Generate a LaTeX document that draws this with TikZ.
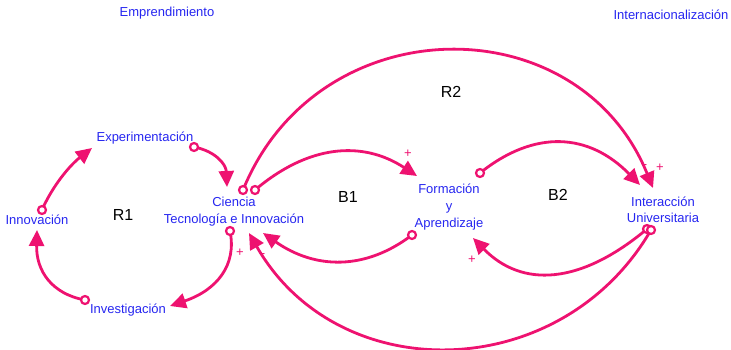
\documentclass[tikz,border=0pt]{standalone}
\usepackage{fontspec}
\setmainfont{Liberation Sans}
\usetikzlibrary{arrows.meta}
\definecolor{varblue}{RGB}{38,38,240}
\definecolor{linkmag}{RGB}{238,18,112}
\tikzset{
  lbl/.style={text=varblue, font=\fontsize{13}{17}\selectfont, align=center, inner sep=0pt},
  looplbl/.style={text=black, font=\fontsize{16}{18}\selectfont, inner sep=0pt},
  sign/.style={text=linkmag, font=\fontsize{13}{14}\selectfont, inner sep=0pt},
  link/.style={draw=linkmag, line width=2.8pt, -{Triangle[length=16pt,width=15pt]}},
  tail/.style={draw=linkmag, line width=2.2pt, fill=white},
}
\begin{document}
\begin{tikzpicture}[x=1pt,y=-1pt]
\useasboundingbox (0,0) rectangle (731,350);

% variables
\node[lbl] (emp)    at (167,13)  {Emprendimiento};
\node[lbl] (intl)   at (671,15)  {Internacionalización};
\node[lbl] (exper)  at (145,138) {Experimentación};
\node[lbl] (innov)  at (37,220)  {Innovación};
\node[lbl] (invest) at (128,310) {Investigación};
\node[lbl] (cti)    at (234,212) {Ciencia\\Tecnología e Innovación};
\node[lbl] (fya)    at (449,207) {Formación\\y\\Aprendizaje};
\node[lbl,font=\fontsize{13}{16}\selectfont] (iu) at (663,210) {Interacción\\Universitaria};

% loop labels
\node[looplbl] (r1) at (123,215) {R1};
\node[looplbl] (b1) at (348,197) {B1};
\node[looplbl] (b2) at (558,195) {B2};
\node[looplbl] (r2) at (451,92)  {R2};

% link ends
\coordinate (innov-tail)  at (42,210);
\coordinate (exper-head)  at (92,148);
\coordinate (exper-tail)  at (194,147);
\coordinate (cti-head1)   at (227,187);
\coordinate (cti-tail1)   at (230,231);
\coordinate (invest-head) at (170,306);
\coordinate (invest-tail) at (85,300);
\coordinate (innov-head)  at (37,230);
\coordinate (cti-tail2)   at (255,190);
\coordinate (fya-head1)   at (417,176);
\coordinate (fya-tail1)   at (412,235);
\coordinate (cti-head2)   at (263,233);
\coordinate (fya-tail2)   at (480,173);
\coordinate (iu-head1)    at (640,185);
\coordinate (iu-tail1)    at (647,229);
\coordinate (fya-head2)   at (473,238);
\coordinate (cti-tail3)   at (243,190);
\coordinate (iu-head2)    at (653,188);
\coordinate (iu-tail2)    at (651,230);
\coordinate (cti-head3)   at (249,233);

% loop R1
\draw[link] (innov-tail) .. controls (52,187) and (69,166) .. (exper-head);
\draw[link] (exper-tail) .. controls (215,151) and (226,164) .. (cti-head1);
\draw[link] (cti-tail1) .. controls (237,265) and (217,290) .. (invest-head);
\draw[link] (invest-tail) .. controls (52,294) and (36,271) .. (innov-head);

% loop B1
\draw[link] (cti-tail2) .. controls (308,145) and (362,140) .. (fya-head1);
\draw[link] (fya-tail1) .. controls (366,270) and (316,270) .. (cti-head2);

% loop B2
\draw[link] (fya-tail2) .. controls (535,129) and (589,133) .. (iu-head1);
\draw[link] (iu-tail1) .. controls (580,285) and (522,288) .. (fya-head2);

% loop R2
\draw[link] (cti-tail3) .. controls (318,6) and (578,4) .. (iu-head2);
\draw[link] (iu-tail2) .. controls (561,385) and (338,389) .. (cti-head3);

% tails
\foreach \t in {innov-tail,exper-tail,cti-tail1,invest-tail,cti-tail2,fya-tail1,fya-tail2,iu-tail1,cti-tail3,iu-tail2}
  \draw[tail] (\t) circle (4pt);

% polarities
\node[sign] (s1) at (408,154) {+};
\node[sign] (s2) at (645,167) {-};
\node[sign] (s3) at (660,168) {+};
\node[sign] (s4) at (472,260) {+};
\node[sign] (s5) at (240,253) {+};
\node[sign] (s6) at (263,256) {-};
\end{tikzpicture}
\end{document}
